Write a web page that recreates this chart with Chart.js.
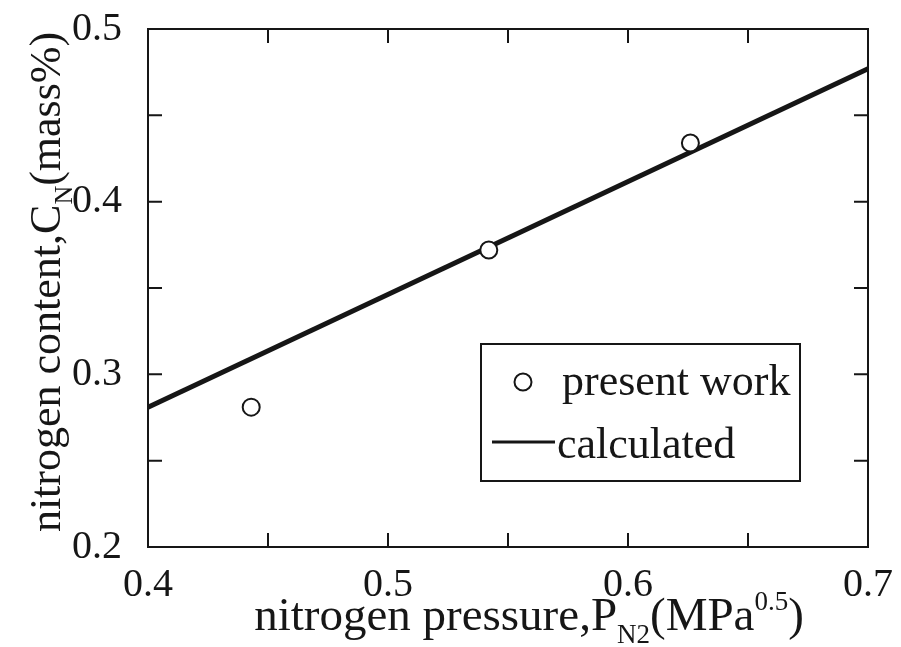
<!DOCTYPE html>
<html>
<head>
<meta charset="utf-8">
<script src="https://cdn.jsdelivr.net/npm/chart.js@4.4.1/dist/chart.umd.min.js"></script>
<style>
  html, body { margin: 0; padding: 0; background: #fff; }
  #wrap { width: 901px; height: 647px; }
</style>
</head>
<body>
<div id="wrap"><canvas id="chart" width="901" height="647"></canvas></div>
<script>
// measured points (present work)
const presentPressure = [0.443, 0.542, 0.626];
const presentNitrogen = [0.281, 0.372, 0.434];
// calculated line
const calcPressure = [0.4, 0.7];
const calcNitrogen = [0.281, 0.477];

const xRange = [0.4, 0.7];
const yRange = [0.2, 0.5];
const tickStep = 0.05;
const labelStep = 0.1;

const seriesLabels = ['present work', 'calculated'];

const INK = '#161616';
const SERIF = '"Liberation Serif", "Times New Roman", serif';

const toPoints = (xs, ys) => xs.map((x, i) => ({ x: x, y: ys[i] }));

const onlyMajor = (v) => {
  const n = Math.round(v / tickStep);
  return n % Math.round(labelStep / tickStep) === 0 ? v.toFixed(1) : '';
};

// text runs with sub/superscripts
function drawRuns(ctx, runs, x, y) {
  let cx = x;
  runs.forEach(r => {
    ctx.font = r.size + 'px ' + SERIF;
    ctx.fillText(r.text, cx, y + (r.dy || 0));
    cx += ctx.measureText(r.text).width;
  });
}
function runsWidth(ctx, runs) {
  let w = 0;
  runs.forEach(r => {
    ctx.font = r.size + 'px ' + SERIF;
    w += ctx.measureText(r.text).width;
  });
  return w;
}

const framePlugin = {
  id: 'frame',
  beforeDatasetsDraw(chart) {
    const { ctx, chartArea: a, scales } = chart;
    ctx.save();
    ctx.strokeStyle = INK;
    ctx.lineWidth = 2;
    ctx.strokeRect(a.left, a.top, a.right - a.left, a.bottom - a.top);
    const len = 14;
    ctx.beginPath();
    scales.x.ticks.forEach(t => {
      const px = scales.x.getPixelForValue(t.value);
      ctx.moveTo(px, a.bottom); ctx.lineTo(px, a.bottom - len);
      ctx.moveTo(px, a.top); ctx.lineTo(px, a.top + len);
    });
    scales.y.ticks.forEach(t => {
      const py = scales.y.getPixelForValue(t.value);
      ctx.moveTo(a.left, py); ctx.lineTo(a.left + len, py);
      ctx.moveTo(a.right, py); ctx.lineTo(a.right - len, py);
    });
    ctx.stroke();
    ctx.restore();
  },
  afterDraw(chart) {
    const { ctx } = chart;
    ctx.save();
    ctx.fillStyle = INK;
    ctx.textBaseline = 'alphabetic';
    ctx.textAlign = 'left';

    // x title
    const xRuns = [
      { text: 'nitrogen pressure,P', size: 47 },
      { text: 'N2', size: 27, dy: 13 },
      { text: '(MPa', size: 47 },
      { text: '0.5', size: 27, dy: -20 },
      { text: ')', size: 47 }
    ];
    const xw = runsWidth(ctx, xRuns);
    drawRuns(ctx, xRuns, 529 - xw / 2, 630);

    // y title (rotated)
    const yRuns = [
      { text: 'nitrogen content,C', size: 44 },
      { text: 'N', size: 26, dy: 12 },
      { text: '(mass%)', size: 44 }
    ];
    const yw = runsWidth(ctx, yRuns);
    ctx.save();
    ctx.translate(60, 282);
    ctx.rotate(-Math.PI / 2);
    drawRuns(ctx, yRuns, -yw / 2, 0);
    ctx.restore();

    // legend box
    const box = { l: 481, t: 344, r: 800, b: 481 };
    ctx.strokeStyle = INK;
    ctx.lineWidth = 2;
    ctx.strokeRect(box.l, box.t, box.r - box.l, box.b - box.t);
    const ds = chart.data.datasets;
    ctx.font = '44px ' + SERIF;
    ctx.textBaseline = 'alphabetic';
    // marker entry
    ctx.beginPath();
    ctx.arc(523, 382, ds[0].pointRadius, 0, Math.PI * 2);
    ctx.fillStyle = '#fff';
    ctx.fill();
    ctx.lineWidth = ds[0].pointBorderWidth;
    ctx.stroke();
    ctx.fillStyle = INK;
    ctx.fillText(ds[0].label, 562, 395);
    // line entry
    ctx.beginPath();
    ctx.lineWidth = 3;
    ctx.moveTo(492, 442);
    ctx.lineTo(555, 442);
    ctx.stroke();
    ctx.fillText(ds[1].label, 557, 458);
    ctx.restore();
  }
};

new Chart(document.getElementById('chart'), {
  type: 'scatter',
  data: {
    datasets: [
      {
        label: seriesLabels[0],
        data: toPoints(presentPressure, presentNitrogen),
        showLine: false,
        pointRadius: 8.5,
        pointBorderWidth: 2,
        pointBackgroundColor: '#fff',
        pointBorderColor: INK
      },
      {
        label: seriesLabels[1],
        data: toPoints(calcPressure, calcNitrogen),
        showLine: true,
        borderColor: INK,
        borderWidth: 5,
        pointRadius: 0,
        fill: false
      }
    ]
  },
  options: {
    responsive: false,
    animation: false,
    devicePixelRatio: 1,
    layout: { padding: { top: 29, right: 33, left: 0, bottom: 0 } },
    plugins: { legend: { display: false }, tooltip: { enabled: false } },
    scales: {
      x: {
        type: 'linear',
        min: xRange[0], max: xRange[1],
        grid: { display: false },
        border: { display: false },
        ticks: {
          stepSize: tickStep,
          autoSkip: false,
          maxRotation: 0,
          padding: 6,
          color: INK,
          font: { family: SERIF, size: 40 },
          callback: onlyMajor
        },
        afterFit: s => { s.height = 100; s.paddingLeft = 0; s.paddingRight = 0; }
      },
      y: {
        type: 'linear',
        min: yRange[0], max: yRange[1],
        grid: { display: false },
        border: { display: false },
        ticks: {
          stepSize: tickStep,
          autoSkip: false,
          padding: 18,
          color: INK,
          font: { family: SERIF, size: 40 },
          callback: onlyMajor
        },
        afterFit: s => { s.width = 148; s.paddingTop = 0; s.paddingBottom = 0; }
      }
    }
  },
  plugins: [framePlugin]
});
</script>
</body>
</html>
